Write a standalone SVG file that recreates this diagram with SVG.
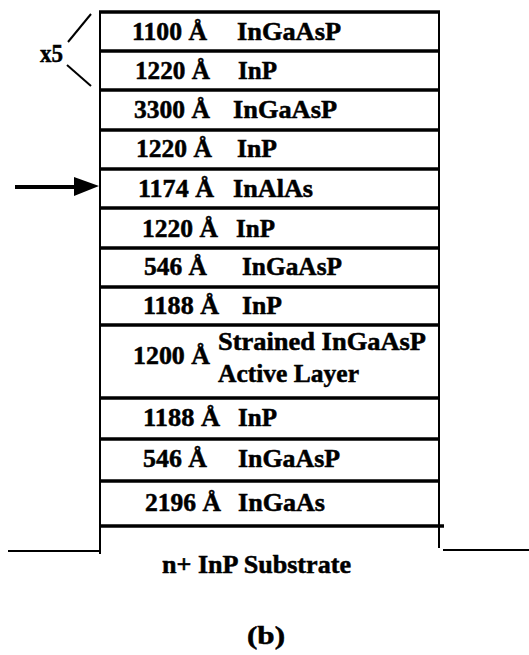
<svg xmlns="http://www.w3.org/2000/svg" width="529" height="655" viewBox="0 0 529 655">
<style>
text{font-family:"Liberation Serif","Times New Roman",serif;font-weight:bold;font-size:25px;fill:#000;stroke:#000;stroke-width:0.5}
.sep{stroke:#000;stroke-width:3.5;fill:none}
.wall{stroke:#000;stroke-width:2;fill:none}
.thin{stroke:#000;stroke-width:2;fill:none}
</style>
<rect width="529" height="655" fill="#fff"/>
<g id="stack-lines">
<line class="wall" x1="100" y1="11" x2="100" y2="554"/>
<line class="wall" x1="439" y1="11" x2="439" y2="548"/>
<line class="sep" x1="99" y1="12" x2="440" y2="12"/>
<line class="sep" x1="99" y1="51" x2="440" y2="51"/>
<line class="sep" x1="99" y1="90" x2="440" y2="90"/>
<line class="sep" x1="99" y1="130" x2="440" y2="130"/>
<line class="sep" x1="99" y1="169" x2="440" y2="169"/>
<line class="sep" x1="99" y1="208" x2="440" y2="208"/>
<line class="sep" x1="99" y1="248" x2="440" y2="248"/>
<line class="sep" x1="99" y1="287" x2="440" y2="287"/>
<line class="sep" x1="99" y1="325" x2="440" y2="325"/>
<line class="sep" x1="99" y1="398" x2="440" y2="398"/>
<line class="sep" x1="99" y1="439" x2="440" y2="439"/>
<line class="sep" x1="99" y1="481" x2="440" y2="481"/>
<line class="sep" x1="99" y1="526" x2="444" y2="526"/>
<line class="thin" x1="8" y1="551" x2="100" y2="551"/>
<line class="thin" x1="443" y1="550" x2="529" y2="550"/>
</g>
<g id="layer1">
<text x="132" y="40" textLength="75" lengthAdjust="spacingAndGlyphs">1100 Å</text>
<text x="237" y="40" textLength="104" lengthAdjust="spacingAndGlyphs">InGaAsP</text>
</g>
<g id="layer2">
<text x="135" y="79" textLength="75" lengthAdjust="spacingAndGlyphs">1220 Å</text>
<text x="238" y="79" textLength="39" lengthAdjust="spacingAndGlyphs">InP</text>
</g>
<g id="layer3">
<text x="134" y="118" textLength="76" lengthAdjust="spacingAndGlyphs">3300 Å</text>
<text x="233" y="118" textLength="104" lengthAdjust="spacingAndGlyphs">InGaAsP</text>
</g>
<g id="layer4">
<text x="136" y="157" textLength="76" lengthAdjust="spacingAndGlyphs">1220 Å</text>
<text x="237" y="157" textLength="40" lengthAdjust="spacingAndGlyphs">InP</text>
</g>
<g id="layer5">
<text x="138" y="197" textLength="76" lengthAdjust="spacingAndGlyphs">1174 Å</text>
<text x="233" y="197" textLength="80" lengthAdjust="spacingAndGlyphs">InAlAs</text>
</g>
<g id="layer6">
<text x="142" y="237" textLength="76" lengthAdjust="spacingAndGlyphs">1220 Å</text>
<text x="236" y="237" textLength="39" lengthAdjust="spacingAndGlyphs">InP</text>
</g>
<g id="layer7">
<text x="144" y="275" textLength="63" lengthAdjust="spacingAndGlyphs">546 Å</text>
<text x="242" y="275" textLength="100" lengthAdjust="spacingAndGlyphs">InGaAsP</text>
</g>
<g id="layer8">
<text x="143" y="314" textLength="76" lengthAdjust="spacingAndGlyphs">1188 Å</text>
<text x="242" y="314" textLength="40" lengthAdjust="spacingAndGlyphs">InP</text>
</g>
<g id="layer9-active">
<text x="133" y="364" textLength="77" lengthAdjust="spacingAndGlyphs">1200 Å</text>
<text x="218" y="350" textLength="208" lengthAdjust="spacingAndGlyphs">Strained InGaAsP</text>
<text x="218" y="382" textLength="141" lengthAdjust="spacingAndGlyphs">Active Layer</text>
</g>
<g id="layer10">
<text x="143" y="426" textLength="77" lengthAdjust="spacingAndGlyphs">1188 Å</text>
<text x="238" y="426" textLength="39" lengthAdjust="spacingAndGlyphs">InP</text>
</g>
<g id="layer11">
<text x="143" y="467" textLength="64" lengthAdjust="spacingAndGlyphs">546 Å</text>
<text x="238" y="467" textLength="102" lengthAdjust="spacingAndGlyphs">InGaAsP</text>
</g>
<g id="layer12">
<text x="145" y="511" textLength="76" lengthAdjust="spacingAndGlyphs">2196 Å</text>
<text x="238" y="511" textLength="87" lengthAdjust="spacingAndGlyphs">InGaAs</text>
</g>
<g id="substrate">
<text x="162" y="573" textLength="189" lengthAdjust="spacingAndGlyphs">n+ InP Substrate</text>
</g>
<g id="repeat-bracket">
<line class="thin" x1="68" y1="42" x2="91" y2="14"/>
<line class="thin" x1="67" y1="65" x2="91" y2="86"/>
<text x="40" y="62" textLength="23" lengthAdjust="spacingAndGlyphs">x5</text>
</g>
<g id="connectors">
<line x1="15" y1="187" x2="78" y2="187" stroke="#000" stroke-width="4"/>
<polygon points="74,177 99,186 74,196" fill="#000"/>
</g>
<g id="caption">
<text x="247" y="644" textLength="38" lengthAdjust="spacingAndGlyphs">(b)</text>
</g>
</svg>
